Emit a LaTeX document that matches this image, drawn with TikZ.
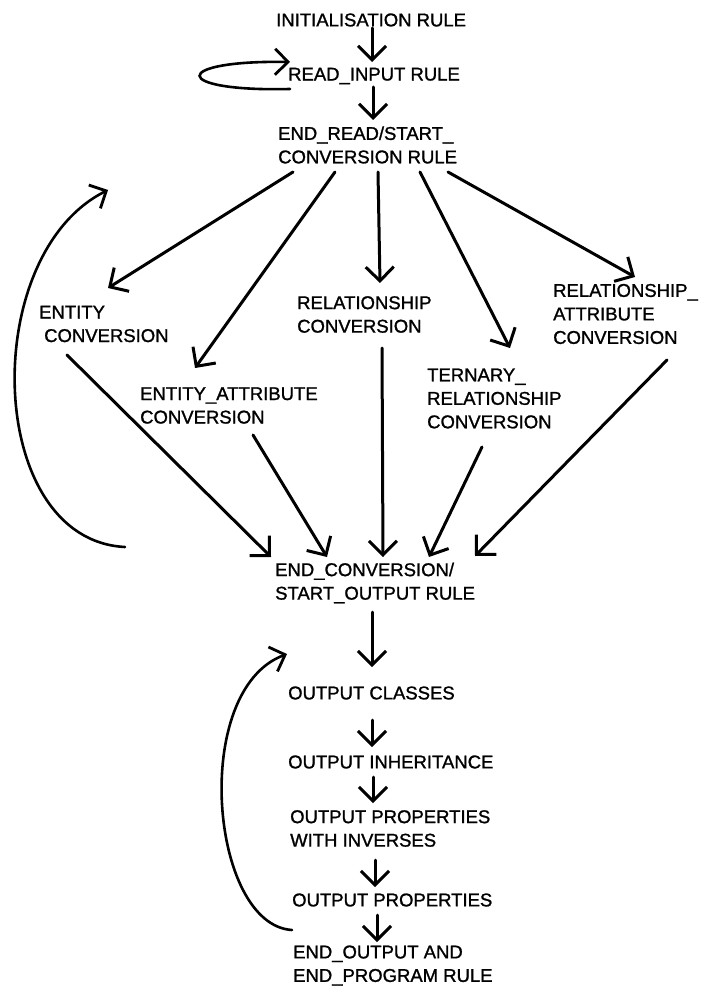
\documentclass[tikz,border=0pt]{standalone}
\usepackage{fontspec}
\setmainfont{Liberation Sans}
\newfontfamily\lblfont{Liberation Sans}[FakeBold=1.2]
\usetikzlibrary{arrows.meta}
\begin{document}
\begin{tikzpicture}[x=1pt,y=-1pt,
  lbl/.style={anchor=west,inner sep=0pt,align=left,font=\lblfont\fontsize{18.5}{23.5}\selectfont},
  flow/.style={line width=3pt,line cap=round,
    -{Straight Barb[length=14pt,width=28pt,line width=3pt]}},
  back/.style={line width=2.6pt,line cap=round,
    -{Straight Barb[length=13pt,width=26pt,line width=2.8pt]}}]
\useasboundingbox (0,0) rectangle (715,992);

% rules of the program
\node[lbl] (init)    at (276,20)  {INITIALISATION RULE};
\node[lbl] (read)    at (288,76)  {READ\_INPUT RULE};
\node[lbl] (endread) at (278,145) {END\_READ/START\_\\CONVERSION RULE};

% conversion rules
\node[lbl] (entity)  at (39,324)    {ENTITY\\\hspace*{5pt}CONVERSION};
\node[lbl] (entattr) at (140,405.5) {ENTITY\_ATTRIBUTE\\CONVERSION};
\node[lbl] (rel)     at (297,314.5) {RELATIONSHIP\\CONVERSION};
\node[lbl] (tern)    at (427,398.5) {TERNARY\_\\RELATIONSHIP\\CONVERSION};
\node[lbl] (relattr) at (553,314)   {RELATIONSHIP\_\\ATTRIBUTE\\CONVERSION};

\node[lbl] (endconv) at (275,583) {END\_CONVERSION/\\START\_OUTPUT RULE};

% output rules
\node[lbl] (classes)  at (288,693)   {OUTPUT CLASSES};
\node[lbl] (inherit)  at (288,762)   {OUTPUT INHERITANCE};
\node[lbl] (props)    at (290,828.5) {OUTPUT PROPERTIES\\WITH INVERSES};
\node[lbl] (outprops) at (292,900)   {OUTPUT PROPERTIES};
\node[lbl] (endout)   at (293,965.5) {END\_OUTPUT AND\\END\_PROGRAM RULE};

% start-up sequence
\draw[flow] ([shift={(96,8)}]init.west) -- ([shift={(84,-14)}]read.west);
\draw[back] ([shift={(2,13)}]read.west)
  .. controls ([shift={(-118,16)}]read.west) and ([shift={(-118,-16)}]read.west)
  .. ([shift={(2,-14)}]read.west);
\draw[flow] ([shift={(85,11)}]read.west) -- ([shift={(95,-25)}]endread.west);

% fan-out to the conversions
\draw[flow] ([shift={(15,27)}]endread.west)  -- ([shift={(69,-36)}]entity.west);
\draw[flow] ([shift={(57,27)}]endread.west)  -- ([shift={(55,-37.5)}]entattr.west);
\draw[flow] ([shift={(100,27)}]endread.west) -- ([shift={(83,-31.5)}]rel.west);
\draw[flow] ([shift={(142,27)}]endread.west) -- ([shift={(83,-50.5)}]tern.west);
\draw[flow] ([shift={(170,27)}]endread.west) -- ([shift={(82,-37)}]relattr.west);

% fan-in to the end of conversion
\draw[flow] ([shift={(28,31)}]entity.west)     -- ([shift={(-4,-26)}]endconv.west);
\draw[flow] ([shift={(113,29.5)}]entattr.west) -- ([shift={(52,-26)}]endconv.west);
\draw[flow] ([shift={(85,33.5)}]rel.west)      -- ([shift={(108,-26)}]endconv.west);
\draw[flow] ([shift={(55,48.5)}]tern.west)     -- ([shift={(154,-26)}]endconv.west);
\draw[flow] ([shift={(114,46)}]relattr.west)   -- ([shift={(200,-27)}]endconv.west);

% conversion loop
\draw[back] ([shift={(-150,-36)}]endconv.west)
  .. controls ([shift={(-290,-43)}]endconv.west) and ([shift={(-297,-328)}]endconv.west)
  .. ([shift={(-170,45)}]endread.west);

% output sequence
\draw[flow] ([shift={(97,29)}]endconv.west)    -- ([shift={(84,-26)}]classes.west);
\draw[flow] ([shift={(84,27)}]classes.west)    -- ([shift={(84,-15)}]inherit.west);
\draw[flow] ([shift={(85,15)}]inherit.west)    -- ([shift={(83,-25.5)}]props.west);
\draw[flow] ([shift={(85,31.5)}]props.west)    -- ([shift={(83,-13)}]outprops.west);
\draw[flow] ([shift={(85,15)}]outprops.west)   -- ([shift={(84,-23.5)}]endout.west);

% output loop
\draw[back] ([shift={(0,30)}]outprops.west)
  .. controls ([shift={(-82,25)}]outprops.west) and ([shift={(-102,-210)}]outprops.west)
  .. ([shift={(-1,-39)}]classes.west);
\end{tikzpicture}
\end{document}
